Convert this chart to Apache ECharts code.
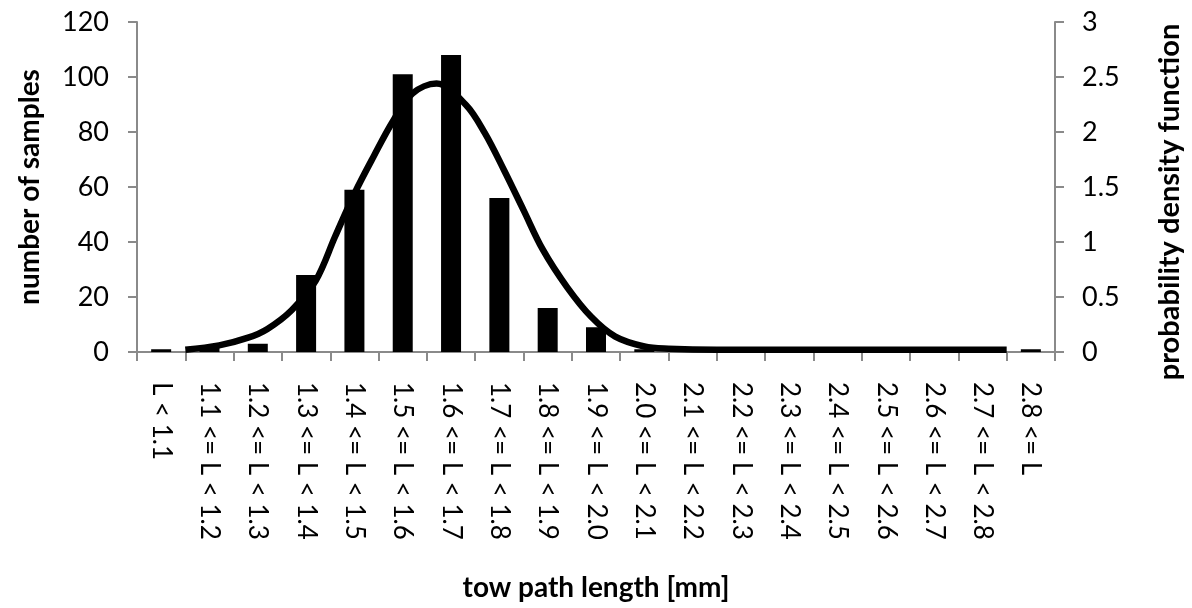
<!DOCTYPE html>
<html>
<head>
<meta charset="utf-8">
<script src="https://cdn.jsdelivr.net/npm/echarts@6/dist/echarts.min.js"></script>
<style>
html,body{margin:0;padding:0;background:#fff;}
#chart{width:1192px;height:608px;}
</style>
</head>
<body>
<div id="chart"></div>
<script>
var categories = ['L < 1.1','1.1 <= L < 1.2','1.2 <= L < 1.3','1.3 <= L < 1.4','1.4 <= L < 1.5','1.5 <= L < 1.6','1.6 <= L < 1.7','1.7 <= L < 1.8','1.8 <= L < 1.9','1.9 <= L < 2.0','2.0 <= L < 2.1','2.1 <= L < 2.2','2.2 <= L < 2.3','2.3 <= L < 2.4','2.4 <= L < 2.5','2.5 <= L < 2.6','2.6 <= L < 2.7','2.7 <= L < 2.8','2.8 <= L'];
var sampleCounts = [1, 2, 3, 28, 59, 101, 108, 56, 16, 9, 1, 0, 0, 0, 0, 0, 0, 0, 1];
var curveL =   [1.10, 1.17, 1.23, 1.27, 1.32, 1.37, 1.41, 1.45, 1.49, 1.53, 1.57, 1.62, 1.68, 1.72, 1.76, 1.80, 1.84, 1.89, 1.94, 1.99, 2.05, 2.10, 2.20, 2.40, 2.60, 2.80];
var curvePdf = [0.02, 0.06, 0.13, 0.21, 0.38, 0.65, 1.05, 1.44, 1.78, 2.10, 2.35, 2.44, 2.25, 1.99, 1.65, 1.29, 0.93, 0.59, 0.32, 0.14, 0.05, 0.03, 0.02, 0.02, 0.02, 0.02];
var leftTicks = [0, 120, 20];
var rightTicks = [0, 3, 0.5];

var axisGray = '#8a8a8a';
var fontFam = 'Lato, "Open Sans", sans-serif';
var curveData = curveL.map(function(l, i){ return [l, curvePdf[i]]; });

var chart = echarts.init(document.getElementById('chart'), null, {renderer:'canvas'});
chart.setOption({
  animation: false,
  backgroundColor: '#ffffff',
  grid: {left: 137, right: 130, top: 22, bottom: 256, containLabel: false},
  xAxis: [{
    type: 'category',
    data: categories,
    boundaryGap: true,
    axisLine: {show: true, lineStyle: {color: axisGray, width: 2}},
    axisTick: {show: true, alignWithLabel: false, length: 9, lineStyle: {color: axisGray, width: 2}},
    axisLabel: {interval: 0, rotate: -90, color: '#000', fontFamily: fontFam, fontSize: 26, margin: 30},
    splitLine: {show: false},
    name: 'tow path length [mm]',
    nameLocation: 'middle',
    nameGap: 222,
    nameTextStyle: {color: '#000', fontFamily: fontFam, fontSize: 28, fontWeight: 'bold'}
  }, {
    type: 'value',
    min: 1.0, max: 2.9,
    show: false
  }],
  yAxis: [{
    type: 'value',
    min: leftTicks[0], max: leftTicks[1], interval: leftTicks[2],
    axisLine: {show: true, lineStyle: {color: axisGray, width: 2}},
    axisTick: {show: true, length: 9, lineStyle: {color: axisGray, width: 2}},
    axisLabel: {color: '#000', fontFamily: fontFam, fontSize: 27, margin: 28},
    splitLine: {show: false},
    name: 'number of samples',
    nameLocation: 'middle',
    nameGap: 93,
    nameTextStyle: {color: '#000', fontFamily: fontFam, fontSize: 28, fontWeight: 'bold'}
  }, {
    type: 'value',
    position: 'right',
    min: rightTicks[0], max: rightTicks[1], interval: rightTicks[2],
    axisLine: {show: true, lineStyle: {color: axisGray, width: 2}},
    axisTick: {show: true, length: 9, lineStyle: {color: axisGray, width: 2}},
    axisLabel: {color: '#000', fontFamily: fontFam, fontSize: 27, margin: 27},
    splitLine: {show: false},
    name: 'probability density function',
    nameLocation: 'middle',
    nameRotate: 90,
    nameGap: 100,
    nameTextStyle: {color: '#000', fontFamily: fontFam, fontSize: 29, fontWeight: 'bold', padding: [0, 30, 0, 0]}
  }],
  series: [{
    type: 'bar',
    data: sampleCounts,
    xAxisIndex: 0, yAxisIndex: 0,
    barWidth: 20,
    itemStyle: {color: '#000'}
  }, {
    type: 'line',
    data: curveData,
    xAxisIndex: 1, yAxisIndex: 1,
    smooth: 0.35,
    showSymbol: false,
    symbol: 'none',
    lineStyle: {color: '#000', width: 6.5},
    z: 3
  }]
});
</script>
</body>
</html>
